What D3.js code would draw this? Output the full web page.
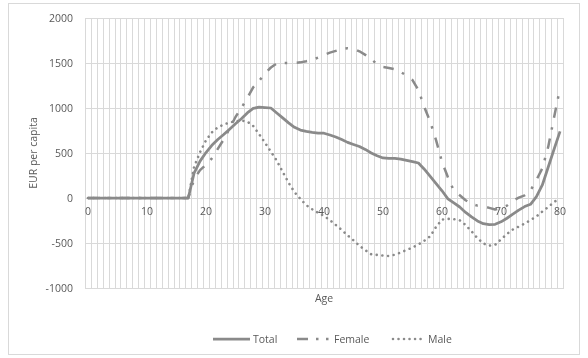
<!DOCTYPE html>
<html>
<head>
<meta charset="utf-8">
<script src="https://cdn.jsdelivr.net/npm/d3@7"></script>
<style>
  html, body { margin: 0; padding: 0; background: #fff; }
  svg { display: block; filter: grayscale(1); }
  text { font-family: "Open Sans", "Noto Sans", sans-serif; fill: #595959; }
</style>
</head>
<body>
<svg id="chart" width="588" height="358"></svg>
<script>
const ages = d3.range(0, 81);
const xTickLabels = [0, 10, 20, 30, 40, 50, 60, 70, 80];
const yTicks = [-1000, -500, 0, 500, 1000, 1500, 2000];
const seriesNames = ["Total", "Female", "Male"];

const zeros = new Array(18).fill(0); // ages 0..17

const total = zeros.concat([
  280, 410, 505, 585, 650, 705, 765, 825, 880, 945,      // 18-27
  995, 1010, 1005, 1000, 945, 890, 835, 785, 755, 740,   // 28-37
  730, 722, 720, 700, 678, 650, 618, 595, 573, 540,      // 38-47
  500, 470, 445, 440, 440, 432, 418, 405, 389, 320,      // 48-57
  240, 160, 80, -10, -55, -100, -160, -210, -255, -285,  // 58-67
  -295, -292, -265, -225, -180, -135, -95, -70, 15, 145, // 68-77
  345, 545, 740                                          // 78-80
]);

const female = zeros.concat([
  210, 310, 370, 440, 545, 650, 770, 900, 1000, 1110,    // 18-27
  1230, 1300, 1385, 1450, 1495, 1500, 1500, 1502, 1507, 1520, // 28-37
  1535, 1560, 1590, 1615, 1635, 1655, 1665, 1658, 1630, 1590, // 38-47
  1545, 1485, 1455, 1445, 1430, 1400, 1360, 1310, 1200, 1010, // 48-57
  850, 640, 400, 230, 80, 30, -25, -65, -85, -92,         // 58-67
  -110, -128, -110, -85, -30, 5, 30, 85, 200, 330,        // 68-77
  570, 900, 1220                                          // 78-80
]);

const male = zeros.concat([
  350, 510, 640, 730, 785, 815, 840, 852, 860, 850,      // 18-27
  800, 710, 615, 515, 415, 290, 170, 65, -10, -80,       // 28-37
  -125, -165, -200, -245, -300, -355, -415, -470, -530, -580, // 38-47
  -625, -632, -640, -645, -630, -605, -578, -550, -515, -475, // 48-57
  -425, -320, -240, -232, -235, -248, -300, -370, -445, -505, // 58-67
  -530, -520, -460, -400, -350, -318, -285, -245, -205, -150, // 68-77
  -100, -45, 0                                            // 78-80
]);

const seriesData = [total, female, male];
const seriesStyle = [
  { dash: null, cap: "butt", width: 2.75 },
  { dash: "10.5,9,2.5,9.5", cap: "butt", width: 2.5 },
  { dash: "0.01,5.7", cap: "round", width: 2.6 }
];
const legendDash = [null, "11,8,2.5,7.5,2.5,30", "0.01,5.5"];
const lineColor = "#8a8a8a";
const gridColor = "#d9d9d9";

const svg = d3.select("#chart");

// chart area border
svg.append("rect")
  .attr("x", 8.5).attr("y", 3.5).attr("width", 571).attr("height", 351)
  .attr("fill", "#fff").attr("stroke", gridColor).attr("stroke-width", 1);

const plot = { left: 85, right: 563, top: 18, bottom: 288 };

const x = d3.scaleBand().domain(ages).range([plot.left, plot.right]).padding(0);
const y = d3.scaleLinear().domain([-1000, 2000]).range([plot.bottom, plot.top]);
const xc = a => x(a) + x.bandwidth() / 2;

const grid = svg.append("g");
// vertical gridlines at category boundaries
const bounds = ages.map(a => x(a)).concat([plot.right]);
grid.selectAll("line.v").data(bounds).enter().append("line")
  .attr("x1", d => Math.round(d) + 0.5).attr("x2", d => Math.round(d) + 0.5)
  .attr("y1", plot.top).attr("y2", plot.bottom)
  .attr("stroke", gridColor).attr("stroke-width", 1);
// horizontal gridlines
grid.selectAll("line.h").data(yTicks).enter().append("line")
  .attr("x1", plot.left).attr("x2", plot.right + 1)
  .attr("y1", d => Math.round(y(d)) + 0.5).attr("y2", d => Math.round(y(d)) + 0.5)
  .attr("stroke", gridColor).attr("stroke-width", 1);

// y axis labels
const yAxis = d3.axisLeft(y).tickValues(yTicks).tickSize(0).tickPadding(0).tickFormat(d => String(d));
const ya = svg.append("g").attr("transform", `translate(${plot.left - 12},0)`).call(yAxis);
ya.select(".domain").remove();
ya.selectAll("text").style("font-size", "10.5px").attr("fill", "#595959").attr("font-family", "Open Sans");

// x axis labels (placed under zero line)
const xAxis = d3.axisBottom(x).tickValues(xTickLabels).tickSize(0).tickPadding(0);
const xa = svg.append("g").attr("transform", `translate(0,${y(0) + 10})`).call(xAxis);
xa.select(".domain").remove();
xa.selectAll("text").style("font-size", "10.5px").attr("fill", "#595959").attr("font-family", "Open Sans");

// axis titles
svg.append("text").attr("x", (plot.left + plot.right) / 2).attr("y", 302)
  .attr("text-anchor", "middle").style("font-size", "10.5px").text("Age");
svg.append("text").attr("transform", `translate(37,${(plot.top + plot.bottom) / 2}) rotate(-90)`)
  .attr("text-anchor", "middle").style("font-size", "10.5px").text("EUR per capita");

// lines
const line = d3.line().x((d, i) => xc(ages[i])).y(d => y(d));
seriesData.forEach((data, k) => {
  svg.append("path").datum(data)
    .attr("d", line)
    .attr("fill", "none")
    .attr("stroke", lineColor)
    .attr("stroke-width", seriesStyle[k].width)
    .attr("stroke-linejoin", "round")
    .attr("stroke-linecap", seriesStyle[k].cap)
    .attr("stroke-dasharray", seriesStyle[k].dash);
});

// legend
const legendY = 339;
const legendItems = [
  { x0: 213, x1: 250, tx: 253 },
  { x0: 297, x1: 331, tx: 334 },
  { x0: 393, x1: 424, tx: 428 }
];
seriesNames.forEach((name, k) => {
  const it = legendItems[k];
  svg.append("line")
    .attr("x1", it.x0).attr("x2", it.x1).attr("y1", legendY).attr("y2", legendY)
    .attr("stroke", lineColor).attr("stroke-width", seriesStyle[k].width)
    .attr("stroke-linecap", seriesStyle[k].cap)
    .attr("stroke-dasharray", legendDash[k]);
  svg.append("text").attr("x", it.tx).attr("y", legendY + 4)
    .style("font-size", "10.5px").text(name);
});
</script>
</body>
</html>
